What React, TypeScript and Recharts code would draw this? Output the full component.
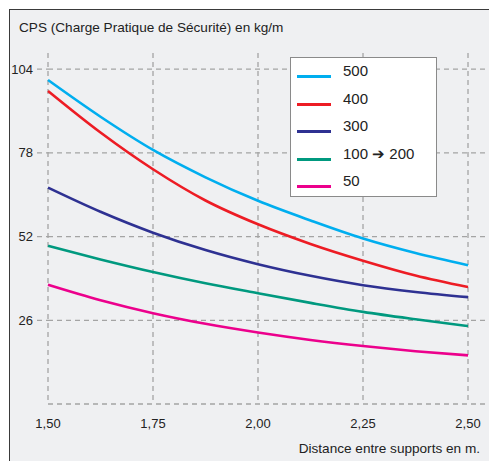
import React from 'react'
import { CartesianGrid, Line, LineChart, XAxis, YAxis } from 'recharts'

// distance between supports (m)
const distances = [1.5, 1.625, 1.75, 1.875, 2.0, 2.125, 2.25, 2.375, 2.5]

const cps500 = [100.6, 89.2, 78.9, 70.4, 63.1, 57.0, 51.4, 46.9, 43.1]
const cps400 = [97.2, 84.3, 72.9, 63.2, 55.8, 49.7, 44.5, 39.9, 36.3]
const cps300 = [67.2, 59.7, 53.2, 47.8, 43.4, 39.8, 36.9, 34.8, 33.2]
const cps100to200 = [49.1, 44.9, 41.0, 37.5, 34.4, 31.4, 28.6, 26.3, 24.2]
const cps50 = [37.0, 32.2, 28.2, 24.9, 22.2, 19.9, 18.0, 16.4, 15.1]

const xTicks = [1.5, 1.75, 2.0, 2.25, 2.5]
const yTicks = [26, 52, 78, 104]

const series = [
  { key: 's500', label: '500', color: '#00aeef', values: cps500 },
  { key: 's400', label: '400', color: '#ed1c24', values: cps400 },
  { key: 's300', label: '300', color: '#2e3192', values: cps300 },
  { key: 's100', label: '100 ➔ 200', color: '#00997f', values: cps100to200 },
  { key: 's50', label: '50', color: '#ec008c', values: cps50 },
]

const FONT = '"Liberation Sans", Arial, sans-serif'
const GRID = '#a4a4a4'

const fmt = (v: number) => v.toFixed(2).replace('.', ',')

export default function App() {
  const data = distances.map((d, i) => {
    const row: Record<string, number> = { d }
    series.forEach((s) => {
      row[s.key] = s.values[i]
    })
    return row
  })

  return (
    <div
      style={{
        position: 'absolute',
        left: 0,
        top: 0,
        width: 489,
        height: 461,
        background: '#ffffff',
        overflow: 'hidden',
        fontFamily: FONT,
      }}
    >
      {/* frame */}
      <div
        style={{
          position: 'absolute',
          left: 9,
          top: 9,
          width: 500,
          height: 500,
          background: '#eff0f2',
          borderLeft: '1.5px solid #3a3a3a',
          borderTop: '1.5px solid #3a3a3a',
        }}
      />
      <div style={{ position: 'absolute', left: 0, top: 0 }}>
        <LineChart width={489} height={461} data={data} margin={{ top: 53, right: 1, left: 0, bottom: 0 }}>
          <CartesianGrid stroke={GRID} strokeWidth={1.3} strokeDasharray="5 4" syncWithTicks />
          <XAxis
            dataKey="d"
            type="number"
            domain={[1.5, 2.5476]}
            ticks={xTicks}
            tickFormatter={fmt}
            height={57}
            tickLine={false}
            axisLine={{ stroke: GRID, strokeWidth: 1.3, strokeDasharray: '5 4' }}
            tickMargin={9}
            tick={{ fill: '#222', fontSize: 13, fontFamily: FONT }}
            interval={0}
          />
          <YAxis
            type="number"
            domain={[0, 109]}
            ticks={yTicks}
            width={48}
            axisLine={false}
            tickSize={11}
            tickMargin={4}
            tickLine={{ stroke: GRID, strokeWidth: 1.3, strokeDasharray: '5 4' }}
            tick={{ fill: '#222', fontSize: 13, fontFamily: FONT }}
            interval={0}
          />
          {series.map((s) => (
            <Line
              key={s.key}
              dataKey={s.key}
              type="monotone"
              stroke={s.color}
              strokeWidth={2.6}
              dot={false}
              activeDot={false}
              isAnimationActive={false}
            />
          ))}
        </LineChart>
      </div>

      {/* title */}
      <div style={{ position: 'absolute', left: 19, top: 20, fontSize: 13.6, color: '#222', whiteSpace: 'nowrap' }}>
        CPS (Charge Pratique de Sécurité) en kg/m
      </div>

      {/* x axis title */}
      <div style={{ position: 'absolute', right: 9, top: 441, fontSize: 13.6, color: '#222', whiteSpace: 'nowrap' }}>
        Distance entre supports en m.
      </div>

      {/* legend */}
      <div
        style={{
          position: 'absolute',
          left: 290,
          top: 57,
          width: 145,
          height: 138,
          background: '#ffffff',
          border: '1.5px solid #8a8a8a',
        }}
      >
        {series.map((s, i) => (
          <div key={s.key} style={{ position: 'absolute', left: 0, top: 4 + i * 27.6, height: 28, width: 145 }}>
            <div
              style={{
                position: 'absolute',
                left: 6,
                top: 13,
                width: 34,
                height: 3,
                background: s.color,
              }}
            />
            <div
              style={{
                position: 'absolute',
                left: 52,
                top: 0,
                fontSize: 15,
                lineHeight: '18px',
                color: '#222',
                whiteSpace: 'nowrap',
              }}
            >
              {s.label}
            </div>
          </div>
        ))}
      </div>
    </div>
  )
}
